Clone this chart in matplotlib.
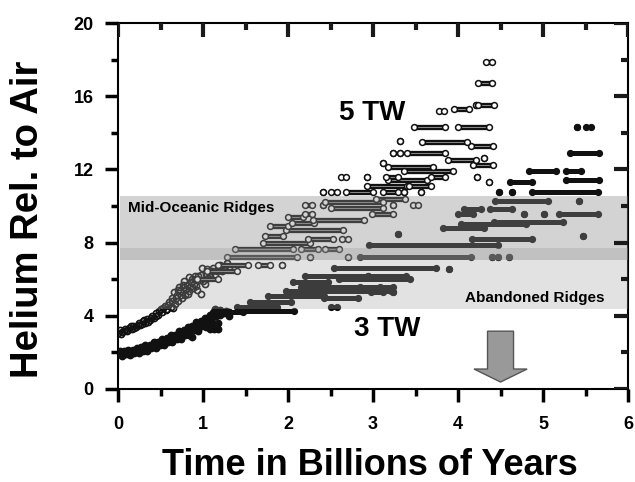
import matplotlib.pyplot as plt
from matplotlib.patches import Rectangle
from matplotlib.ticker import MultipleLocator

plt.rcParams['font.family'] = ['Liberation Sans', 'DejaVu Sans']
plt.rcParams['font.weight'] = 'bold'

# --- data ---------------------------------------------------------------
# early cloud of the 3 TW run (filled dots): x = time (Gyr), y = He / air
three_cloud_x = [0.00, 0.05, 0.10, 0.15, 0.20, 0.25, 0.30, 0.35, 0.40, 0.45,
                 0.50, 0.55, 0.60, 0.65, 0.70, 0.75, 0.80, 0.85, 0.90, 0.95,
                 1.00, 1.05, 1.10, 1.15, 1.20, 1.25, 1.30,
                 0.02, 0.12, 0.22, 0.32, 0.42, 0.52, 0.62, 0.72, 0.82, 0.92,
                 1.02, 1.08, 1.14, 1.20,
                 0.04, 0.14, 0.24, 0.34, 0.44, 0.54, 0.64, 0.74, 0.84, 0.94,
                 1.04, 1.12, 1.18,
                 0.07, 0.17, 0.27, 0.37, 0.47, 0.57, 0.67, 0.77, 0.87, 0.97,
                 1.07, 1.17, 1.27,
                 0.09, 0.19, 0.29, 0.39, 0.49, 0.59, 0.69, 0.79, 0.89, 0.99,
                 1.09,
                 0.87, 1.08, 1.13, 1.17, 1.14, 1.30]
three_cloud_y = [1.90, 1.93, 1.98, 2.03, 2.09, 2.15, 2.22, 2.30, 2.38, 2.46,
                 2.55, 2.64, 2.74, 2.84, 2.95, 3.07, 3.19, 3.31, 3.43, 3.55,
                 3.66, 3.78, 3.88, 3.98, 4.07, 4.14, 4.19,
                 2.05, 2.14, 2.26, 2.40, 2.56, 2.73, 2.93, 3.15, 3.40, 3.65,
                 3.90, 4.05, 4.18, 4.30,
                 1.80, 1.88, 1.97, 2.10, 2.24, 2.38, 2.55, 2.74, 2.95, 3.18,
                 3.40, 3.55, 3.62,
                 2.05, 2.15, 2.27, 2.42, 2.58, 2.77, 2.97, 3.20, 3.45, 3.70,
                 3.92, 4.12, 4.25,
                 1.90, 1.98, 2.10, 2.24, 2.38, 2.56, 2.75, 2.97, 3.20, 3.42,
                 3.62,
                 2.83, 3.27, 3.27, 3.30, 4.36, 4.00]

# early cloud of the 5 TW run (open circles)
five_cloud_x = [0.00, 0.02, 0.05, 0.08, 0.10, 0.13, 0.16, 0.18, 0.21, 0.24,
                0.26, 0.29, 0.32, 0.34, 0.37, 0.40, 0.42, 0.45, 0.47, 0.50,
                0.52, 0.55, 0.57, 0.60, 0.62, 0.64, 0.66, 0.67, 0.69, 0.71,
                0.72, 0.73, 0.75, 0.77, 0.78, 0.79, 0.81, 0.83, 0.84, 0.86,
                0.88, 0.90, 0.92, 0.94, 0.97, 0.99, 1.00, 1.03, 1.06, 1.10,
                1.14, 1.18, 1.22, 1.26, 1.30,
                0.03, 0.07, 0.11, 0.15, 0.19, 0.23, 0.28, 0.31, 0.35, 0.39,
                0.44, 0.48, 0.53, 0.56, 0.59, 0.63, 0.65, 0.68, 0.70, 0.74,
                0.76, 0.80, 0.82, 0.85, 0.87, 0.89, 0.91, 0.93, 0.96, 0.98,
                1.02, 1.05, 1.08, 1.12, 1.16, 1.20, 1.24, 1.28]
five_cloud_y = [3.05, 3.20, 3.10, 3.28, 3.18, 3.35, 3.30, 3.45, 3.40, 3.58,
                3.50, 3.70, 3.62, 3.85, 3.75, 4.00, 3.90, 4.15, 4.05, 4.35,
                4.20, 4.55, 4.35, 4.75, 4.50, 4.95, 5.30, 4.65, 5.15, 4.80,
                5.60, 5.35, 5.00, 5.55, 5.90, 5.15, 5.70, 6.10, 5.35, 5.85,
                5.50, 6.00, 5.65, 6.15, 5.20, 6.60, 5.90, 6.30, 6.05, 6.45,
                6.25, 6.60, 6.45, 6.75, 6.65,
                3.00, 3.15, 3.25, 3.42, 3.33, 3.50, 3.55, 3.78, 3.68, 3.88,
                4.00, 4.25, 4.45, 4.30, 4.60, 4.80, 4.45, 5.00, 5.40, 5.15,
                5.70, 5.45, 5.20, 5.60, 6.00, 5.75, 6.20, 5.40, 5.95, 6.25,
                5.75, 6.55, 6.20, 6.60, 6.45, 6.80, 6.60, 6.90]

# horizontal runs of points: start time, end time, helium level
five_tw_runs = [
    (0.93, 1.17, 6.0), (1.05, 1.40, 6.45),
    (1.17, 1.53, 6.8), (1.65, 1.79, 6.8), (1.93, 1.93, 6.8),
    (1.28, 2.11, 7.2), (2.26, 2.26, 7.2), (2.70, 2.70, 7.2),
    (1.38, 2.06, 7.65), (2.15, 2.35, 7.65), (2.44, 2.60, 7.65),
    (1.70, 2.26, 8.0), (1.73, 1.94, 8.35),
    (2.24, 2.53, 8.2), (2.64, 2.71, 8.2),
    (1.97, 2.65, 8.7), (1.79, 2.00, 8.9), (2.05, 2.30, 9.1),
    (2.29, 2.89, 9.25), (2.00, 2.17, 9.4),
    (2.20, 2.28, 9.55), (2.99, 3.24, 9.55),
    (2.50, 3.12, 9.9),
    (2.20, 2.28, 10.05), (2.41, 2.41, 10.05), (3.23, 3.23, 10.05),
    (3.47, 3.53, 10.05),
    (2.44, 3.12, 10.2), (3.03, 3.38, 10.4),
    (2.41, 2.41, 10.75), (2.50, 2.58, 10.75), (2.68, 3.00, 10.75),
    (3.12, 3.29, 10.75), (3.36, 3.36, 10.75), (3.56, 3.56, 10.75),
    (2.93, 3.40, 11.1), (3.42, 3.68, 11.1),
    (4.37, 4.37, 11.3), (3.17, 3.64, 11.45),
    (2.62, 2.68, 11.6), (2.93, 2.93, 11.6), (3.15, 3.29, 11.6),
    (3.68, 3.85, 11.6), (4.22, 4.22, 11.6),
    (3.36, 3.94, 11.9), (3.17, 3.71, 12.15), (4.18, 4.41, 12.25),
    (3.12, 3.12, 12.35), (3.88, 4.21, 12.5), (4.30, 4.30, 12.6),
    (3.23, 3.23, 12.9), (3.32, 3.32, 12.9), (3.40, 3.85, 12.9),
    (4.15, 4.41, 13.3), (3.32, 3.32, 13.55), (3.58, 4.11, 13.5),
    (3.48, 3.85, 14.3), (4.00, 4.37, 14.3),
    (3.77, 3.83, 15.2), (3.95, 4.13, 15.3),
    (4.21, 4.21, 15.5), (4.24, 4.42, 15.5),
    (4.24, 4.40, 16.7), (4.33, 4.40, 17.9),
]

three_tw_runs = [
    (1.12, 1.47, 4.2), (1.44, 2.07, 4.25),
    (1.40, 1.87, 4.5), (2.50, 2.58, 4.5),
    (1.55, 2.03, 4.75),
    (1.76, 2.42, 5.1), (2.42, 2.82, 4.95),
    (1.97, 3.21, 5.35), (2.97, 3.12, 5.3), (3.23, 3.23, 5.3),
    (2.15, 3.08, 5.6), (2.85, 3.24, 5.55),
    (2.06, 2.47, 5.85), (2.60, 3.44, 6.0),
    (2.20, 2.94, 6.2), (2.94, 3.39, 6.2),
    (2.54, 3.74, 6.6), (3.89, 3.89, 6.55),
    (2.85, 4.15, 7.2), (4.40, 4.40, 7.2), (4.47, 4.47, 7.2), (4.60, 4.60, 7.2),
    (2.95, 4.47, 7.85), (3.29, 3.29, 8.45),
    (4.17, 4.87, 8.2), (5.47, 5.47, 8.35),
    (3.82, 4.30, 8.8), (4.03, 4.80, 9.0), (4.42, 5.23, 9.15),
    (4.00, 4.18, 9.55), (4.78, 4.78, 9.55), (5.01, 5.01, 9.55),
    (5.19, 5.65, 9.55),
    (4.07, 4.27, 9.85), (4.38, 4.64, 9.85),
    (4.44, 5.06, 10.25), (5.42, 5.42, 10.25),
    (4.48, 4.48, 10.75), (4.63, 4.63, 10.75), (4.87, 5.65, 10.75),
    (4.61, 4.87, 11.3), (5.27, 5.66, 11.45),
    (4.84, 5.15, 11.9), (5.27, 5.45, 11.9),
    (5.32, 5.66, 12.9),
    (5.40, 5.40, 14.3), (5.50, 5.56, 14.3),
]

# shaded helium ranges observed for ridge basalts (low, high)
mor_range = (7.03, 10.57)
abandoned_range = (4.36, 7.68)

# axis limits and tick spacing
x_max, y_max = 6, 20
x_major, x_minor = 1, 0.5
y_major, y_minor = 4, 2

# --- figure --------------------------------------------------------------
fig = plt.figure(figsize=(6.35, 4.82), dpi=100)
ax = fig.add_axes([0.186, 0.193, 0.803, 0.759])
ax.set_xlim(0, x_max)
ax.set_ylim(0, y_max)

dark = '#111111'

# 3 TW: filled dots
ax.plot(three_cloud_x, three_cloud_y, ls='none', marker='o', ms=4.6,
        mfc=dark, mec=dark, zorder=3)
for x0, x1, y in three_tw_runs:
    ax.plot([x0, x1], [y, y], color=dark, lw=3.6, solid_capstyle='round',
            marker='o', ms=4.2, mfc=dark, mec=dark, zorder=3)

# 5 TW: open circles
ax.plot(five_cloud_x, five_cloud_y, ls='none', marker='o', ms=4.4,
        mfc='none', mec=dark, mew=1.2, zorder=3)
for x0, x1, y in five_tw_runs:
    ax.plot([x0, x1], [y, y], color=dark, lw=3.8, solid_capstyle='round',
            zorder=3)
    ax.plot([x0, x1], [y, y], color='#8a8a8a', lw=0.7, zorder=3.1)
    ax.plot([x0, x1], [y, y], ls='none', marker='o', ms=4.2, mfc='white',
            mec=dark, mew=1.1, zorder=3.2)

# translucent bands lie over the points
ax.add_patch(Rectangle((0.02, abandoned_range[0]), x_max - 0.02,
                       abandoned_range[1] - abandoned_range[0],
                       facecolor='#a0a0a0', alpha=0.3, edgecolor='none',
                       zorder=4))
ax.add_patch(Rectangle((0.02, mor_range[0]), x_max - 0.02,
                       mor_range[1] - mor_range[0],
                       facecolor='#8c8c8c', alpha=0.38, edgecolor='none',
                       zorder=4))

ax.text(0.12, 9.92, 'Mid-Oceanic Ridges', fontsize=11, fontweight='bold',
        ha='left', va='center', zorder=5)
ax.text(5.72, 5.0, 'Abandoned Ridges', fontsize=11, fontweight='bold',
        ha='right', va='center', zorder=5)
ax.text(2.99, 15.1, '5 TW', fontsize=20, fontweight='bold',
        ha='center', va='center', zorder=5)
ax.text(3.17, 3.27, '3 TW', fontsize=20, fontweight='bold',
        ha='center', va='center', zorder=5)

# arrow marking the present day
ax.arrow(4.5, 3.16, 0, -2.78, width=0.306, head_width=0.625,
         head_length=0.71, length_includes_head=True,
         facecolor='#999999', edgecolor='#555555', lw=1, zorder=5)

# axes, ticks: out on bottom/left, in on top/right
for s in ax.spines.values():
    s.set_linewidth(1.5)
ax.xaxis.set_major_locator(MultipleLocator(x_major))
ax.xaxis.set_minor_locator(MultipleLocator(x_minor))
ax.yaxis.set_major_locator(MultipleLocator(y_major))
ax.yaxis.set_minor_locator(MultipleLocator(y_minor))
ax.tick_params(which='both', direction='out', width=2.5)
ax.tick_params(which='major', length=9.5, labelsize=13, pad=8)
ax.tick_params(which='minor', length=5)
ax.tick_params(axis='x', which='major', pad=10)
for lab in ax.get_xticklabels() + ax.get_yticklabels():
    lab.set_fontweight('bold')

n_x = int(round(x_max / x_minor))
n_y = int(round(y_max / y_minor))
for i in range(n_x + 1):
    v = i * x_minor
    ln = 0.75 if i % 2 == 0 else 0.4
    ax.plot([v, v], [y_max, y_max - ln], color='#1a1a1a', lw=3,
            solid_capstyle='butt', zorder=6)
for i in range(n_y + 1):
    v = i * y_minor
    ln = 0.16 if i % 2 == 0 else 0.085
    ax.plot([x_max, x_max - ln], [v, v], color='#1a1a1a', lw=3,
            solid_capstyle='butt', zorder=6)

fig.text(0.583, 0.0145, 'Time in Billions of Years', fontsize=26,
         fontweight='bold', ha='center', va='baseline')
fig.text(0.044, 0.544, 'Helium Rel. to Air', fontsize=27.5,
         fontweight='bold', ha='center', va='center', rotation=90)

fig.savefig('out.png', dpi=100)
